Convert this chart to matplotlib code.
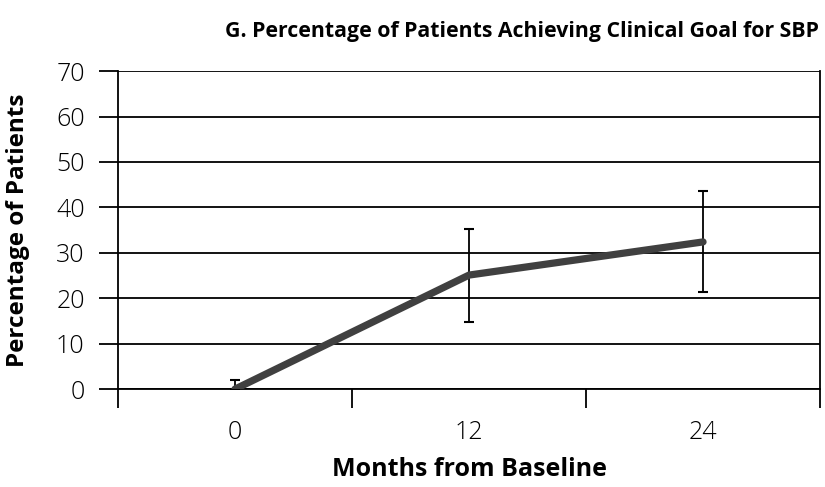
import numpy as np
import matplotlib.pyplot as plt

# -----------------------
# Data
# -----------------------
months = ["0", "12", "24"]
pct = [0.0, 25.1, 32.4]
err_low = [0.0, 14.7, 21.4]
err_high = [2.0, 35.3, 43.7]
yticks = [0, 10, 20, 30, 40, 50, 60, 70]

plt.rcParams['font.family'] = ['Open Sans', 'DejaVu Sans']

fig = plt.figure(figsize=(8.25, 4.87), dpi=100)
ax = fig.add_axes([0.143, 0.201, 0.851, 0.653])

x = np.arange(len(months))
lower = np.array(pct) - np.array(err_low)
upper = np.array(err_high) - np.array(pct)

ax.errorbar(x, pct, yerr=[lower, upper], fmt='none', ecolor='black',
            elinewidth=1.3, capsize=3.5, capthick=1.5, zorder=3)
ax.plot(x, pct, color='#404040', lw=5.2, solid_capstyle='round', zorder=4)

# -----------------------
# Axes styling
# -----------------------
ax.set_xlim(-0.5, 2.5)
ax.set_ylim(0, 70)
ax.set_yticks(yticks)
ax.set_yticklabels([str(v) for v in yticks], fontsize=18, fontweight='light')
for v in yticks:
    ax.axhline(v, color='black', lw=1.3, zorder=1)

ax.set_xticks(x)
ax.set_xticklabels(months, fontsize=18, fontweight='light')
ax.tick_params(axis='x', length=0, pad=22)
ax.set_xticks(np.arange(-0.5, 3.0, 1.0), minor=True)
ax.tick_params(axis='x', which='minor', length=14, width=1.3, direction='out')
ax.tick_params(axis='y', length=14, width=1.3, direction='out', pad=10)

for side in ['left', 'right', 'bottom', 'top']:
    ax.spines[side].set_linewidth(1.3)
ax.spines['top'].set_visible(False)

ax.set_xlabel("Months from Baseline", fontsize=18, fontweight='bold', labelpad=9)
ax.set_ylabel("Percentage of Patients", fontsize=17.5, fontweight='bold', labelpad=19)

fig.text(0.992, 0.935, "G. Percentage of Patients Achieving Clinical Goal for SBP",
         ha='right', va='center', fontsize=15.3, fontweight='bold')

fig.savefig("out.png", dpi=100)
